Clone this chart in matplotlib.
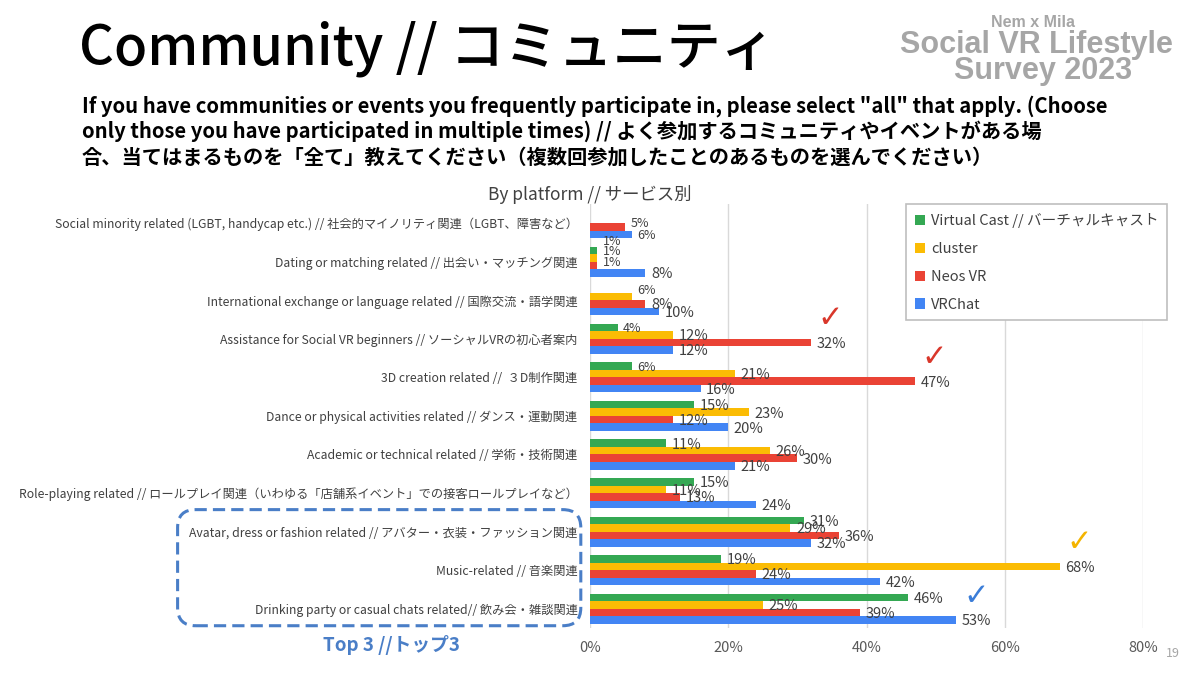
import numpy as np
import matplotlib.pyplot as plt
from matplotlib.patches import FancyBboxPatch
from matplotlib.ticker import FuncFormatter

plt.rcParams['font.family'] = ['Noto Sans CJK JP', 'DejaVu Sans']

# categories, top to bottom
categories = [
    'Social minority related (LGBT, handycap etc.) // 社会的マイノリティ関連（LGBT、障害など）',
    'Dating or matching related // 出会い・マッチング関連',
    'International exchange or language related // 国際交流・語学関連',
    'Assistance for Social VR beginners // ソーシャルVRの初心者案内',
    '3D creation related //  ３D制作関連',
    'Dance or physical activities related // ダンス・運動関連',
    'Academic or technical related // 学術・技術関連',
    'Role-playing related // ロールプレイ関連（いわゆる「店舗系イベント」での接客ロールプレイなど）',
    'Avatar, dress or fashion related // アバター・衣装・ファッション関連',
    'Music-related // 音楽関連',
    'Drinking party or casual chats related// 飲み会・雑談関連',
]

series_names = ['Virtual Cast // バーチャルキャスト', 'cluster', 'Neos VR', 'VRChat']
virtual_cast = [0, 1, 0, 4, 6, 15, 11, 15, 31, 19, 46]
cluster = [0, 1, 6, 12, 21, 23, 26, 11, 29, 68, 25]
neos_vr = [5, 1, 8, 32, 47, 12, 30, 13, 36, 24, 39]
vrchat = [6, 8, 10, 12, 16, 20, 21, 24, 32, 42, 53]
colors = ['#34A853', '#FBBC04', '#EA4335', '#4285F4']

# highlighted bars: (series index, category index, check colour)
checks = [(2, 3, '#D9372B'), (2, 4, '#D9372B'), (1, 9, '#F4B400'), (3, 10, '#3B7DD8')]

all_series = [virtual_cast, cluster, neos_vr, vrchat]

fig = plt.figure(figsize=(12, 6.75), dpi=100)
ax = fig.add_axes([0.4917, 0.0696, 0.9525 - 0.4917, 0.698 - 0.0696])

y = np.arange(len(categories))
h = 0.195
for i, (vals, name, c) in enumerate(zip(all_series, series_names, colors)):
    pos = y + (i - 1.5) * h
    ax.barh(pos, np.array(vals) / 100, height=h, color=c, label=name, zorder=3)
    for j, (p, v) in enumerate(zip(pos, vals)):
        if v <= 0:
            continue
        fs = 9 if v < 8 else 10.5
        # tiny labels next to another tiny bar get lifted a little, like excel does
        crowded = i < 3 and v < 10 and all_series[i + 1][j] < 10
        dy = (3 - i) * 2.2 if crowded else -1
        ax.annotate(f'{v}%', (v / 100, p), xytext=(4, dy), textcoords='offset points',
                    va='center', ha='left', fontsize=fs, color='#404040', zorder=4)

for si, ci, c in checks:
    v = all_series[si][ci] / 100
    p = ci + (si - 1.5) * h
    ax.annotate('\u2713', (v, p), xytext=(14, 17), textcoords='offset points',
                ha='center', va='center', fontsize=22, color=c,
                family=['DejaVu Sans'], fontweight='bold')

ax.set_xlim(0, 0.8)
ax.set_ylim(len(categories) - 0.5, -0.5)
ax.set_xticks([0, 0.2, 0.4, 0.6, 0.8])
ax.xaxis.set_major_formatter(FuncFormatter(lambda x, _: f'{x * 100:.0f}%'))
ax.set_yticks(y)
ax.set_yticklabels(categories, fontsize=8.8, color='#404040')
ax.tick_params(axis='both', length=0)
ax.tick_params(axis='x', labelsize=10.5, labelcolor='#595959', pad=9)
ax.tick_params(axis='y', pad=9)
ax.grid(axis='x', color='#D9D9D9', linewidth=1, zorder=0)
for s in ax.spines.values():
    s.set_visible(False)

ax.set_title('By platform // サービス別', fontsize=12.5, color='#404040', pad=2, x=0.0, ha='center')

leg = fig.legend(loc='upper left', bbox_to_anchor=(0.749, 0.708), fontsize=10.5,
                 handlelength=0.7, handleheight=0.7, handletextpad=0.4,
                 labelspacing=0.95, borderpad=0.6, fancybox=False,
                 edgecolor='#BFBFBF', framealpha=1)
leg.get_frame().set_linewidth(1.2)
for t in leg.get_texts():
    t.set_color('#404040')

# title and question
fig.text(0.066, 0.928, 'Community // コミュニティ', fontsize=39, fontweight='medium',
         color='black', va='center')
fig.text(0.068, 0.806,
         'If you have communities or events you frequently participate in, please select "all" that apply. (Choose\n'
         'only those you have participated in multiple times) // よく参加するコミュニティやイベントがある場\n'
         '合、当てはまるものを「全て」教えてください（複数回参加したことのあるものを選んでください）',
         fontsize=14.6, fontweight='bold', color='black', va='center', linespacing=1.22)

# survey badge
badge = dict(color='#A6A6A6', fontweight='bold', family=['Liberation Sans'], ha='center', va='center')
fig.text(0.861, 0.967, 'Nem x Mila', fontsize=11.5, **badge)
fig.text(0.864, 0.933, 'Social VR Lifestyle', fontsize=22, **badge)
fig.text(0.869, 0.895, 'Survey 2023', fontsize=22, **badge)

# top 3 box
box = FancyBboxPatch((0.148, 0.073), 0.336, 0.172, boxstyle='round,pad=0,rounding_size=0.015',
                     transform=fig.transFigure, fill=False, edgecolor='#4A7EC7',
                     linestyle=(0, (4, 2)), linewidth=2.2, mutation_aspect=12 / 6.75)
fig.patches.append(box)
fig.text(0.326, 0.045, 'Top 3 //トップ3', fontsize=13.5, fontweight='bold', color='#4A7EC7',
         ha='center', va='center')

fig.text(0.977, 0.032, '19', fontsize=9, color='#A6A6A6', ha='center', va='center')

fig.savefig('out.png', dpi=100)
